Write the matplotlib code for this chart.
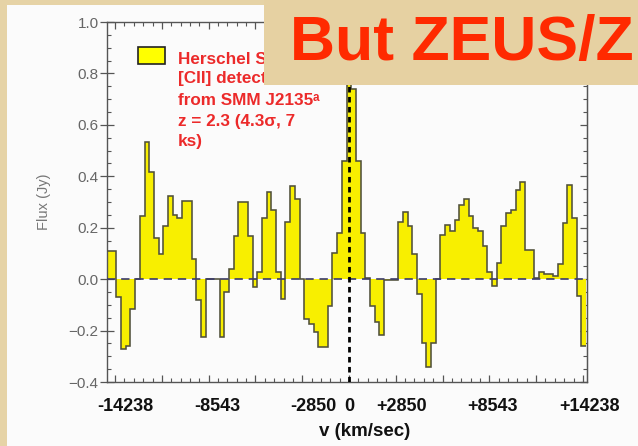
import numpy as np
import matplotlib
matplotlib.use("Agg")
import matplotlib.pyplot as plt
from matplotlib.patches import Rectangle
from matplotlib.ticker import MultipleLocator, FuncFormatter, NullFormatter

# ---------------- data ----------------
flux_jy = [
    0.11, 0.11, -0.07, -0.27, -0.26, -0.115, 0.0, 0.244, 0.532, 0.417,
    0.16, 0.096, 0.205, 0.323, 0.25, 0.237, 0.304, 0.304, 0.077, -0.083,
    -0.224, 0.0, 0.0, 0.0, -0.224, -0.051, 0.038, 0.167, 0.301, 0.301,
    0.167, -0.032, 0.026, 0.237, 0.34, 0.269, 0.026, -0.077, 0.224, 0.362,
    0.31, 0.0, -0.154, -0.173, -0.205, -0.263, -0.263, -0.103, 0.103, 0.18,
    0.46, 0.85, 0.74, 0.46, 0.18, 0.006, -0.103, -0.167, -0.218, -0.005,
    -0.005, -0.005, 0.224, 0.263, 0.205, 0.096, -0.058, -0.25, -0.34, -0.25,
    0.0, 0.173, 0.21, 0.186, 0.23, 0.29, 0.31, 0.244, 0.199, 0.186,
    0.128, 0.026, -0.026, 0.064, 0.205, 0.256, 0.269, 0.346, 0.378, 0.115,
    0.115, 0.006, 0.026, 0.02, 0.02, 0.013, 0.058, 0.218, 0.365, 0.237,
    -0.064, -0.26,
]
vel_start_kms = -14278
vel_end_kms = 13983
xlim_kms = (-14278, 14042)
ylim_jy = (-0.4, 1.0)
xtick_labels = ["-14238", "-8543", "-2850", "0", "+2850", "+8543", "+14238"]
xtick_label_pos_kms = [-13216, -7788, -2124, 0, 3127, 8496, 14219]
legend_lines = ["Herschel SPIRE FTS", "[CII] detection", "from SMM J2135\u1d43",
                "z = 2.3 (4.3\u03c3, 7", "ks)"]
title_text = "But ZEUS/Z"
xlabel_text = "v (km/sec)"
ylabel_text = "Flux (Jy)"

# ---------------- figure ----------------
W, H = 638, 446
fig = plt.figure(figsize=(W / 100, H / 100), dpi=100)
fig.patch.set_facecolor("#fbfbfb")


def fx(px):
    return px / W


def fy(py):
    return 1 - py / H


SANS = ["Liberation Sans", "DejaVu Sans"]

# slide border strips
fig.add_artist(Rectangle((0, 0), fx(7), 1, transform=fig.transFigure,
                         facecolor="#e6d3a6", edgecolor="none", zorder=0.5))
fig.add_artist(Rectangle((0, fy(5)), 1, 1 - fy(5), transform=fig.transFigure,
                         facecolor="#e6d3a6", edgecolor="none", zorder=0.5))

ax = fig.add_axes([fx(107), fy(382), fx(587) - fx(107), fy(22) - fy(382)])
ax.set_facecolor("#fbfbfb")

edges = np.linspace(vel_start_kms, vel_end_kms, len(flux_jy) + 1)
ax.stairs(flux_jy, edges, baseline=0, fill=True, color="#f8ef00", lw=0, zorder=2)
ax.stairs(flux_jy, edges, baseline=None, color="#50503a", lw=1.15, zorder=3)
ax.axhline(0, color="#3a3a6a", lw=1.2, ls=(0, (5, 3.5)), zorder=4)
ax.axvline(0, color="black", lw=2.0, ls=(0, (2, 1.6)), zorder=5)

ax.set_xlim(*xlim_kms)
ax.set_ylim(*ylim_jy)

for s in ax.spines.values():
    s.set_color("#555555")
    s.set_linewidth(1.0)

ax.xaxis.set_major_locator(MultipleLocator(2760))
ax.xaxis.set_minor_locator(MultipleLocator(552))
ax.yaxis.set_major_locator(MultipleLocator(0.2))
ax.yaxis.set_minor_locator(MultipleLocator(0.05))
ax.tick_params(axis="x", which="both", direction="in", top=True, bottom=True,
               labelbottom=False, color="#555555")
ax.tick_params(axis="x", which="major", length=5, width=0.9)
ax.tick_params(axis="x", which="minor", length=3, width=0.8)
ax.tick_params(axis="y", which="major", direction="inout", length=10, width=0.9,
               left=True, right=False, color="#555555", labelcolor="#666666",
               labelsize=11, pad=1)
ax.tick_params(axis="y", which="minor", direction="in", length=3, width=0.8,
               left=True, right=False, color="#555555")
ax.yaxis.set_major_formatter(FuncFormatter(
    lambda v, p: f"{v:.1f}".replace("-", "\u2212")))
for lab in ax.get_yticklabels():
    lab.set_family(SANS)

# right-hand ticks, pointing inward only
sec = ax.secondary_yaxis("right")
sec.yaxis.set_major_locator(MultipleLocator(0.2))
sec.yaxis.set_minor_locator(MultipleLocator(0.05))
sec.yaxis.set_major_formatter(NullFormatter())
sec.tick_params(which="major", direction="in", length=5, width=0.9, color="#555555")
sec.tick_params(which="minor", direction="in", length=3, width=0.8, color="#555555")
sec.spines["right"].set_color("#555555")

# x tick labels (placed where they appear on the slide)
for lab, pos in zip(xtick_labels, xtick_label_pos_kms):
    ax.text(pos, -0.045, lab, transform=ax.get_xaxis_transform(), ha="center",
            va="top", fontsize=13, fontweight="bold", family=SANS, color="#111111",
            clip_on=False)

fig.text(fx(365), fy(432), xlabel_text, ha="center", va="center", fontsize=13.5,
         fontweight="bold", family=SANS, color="#111111")
fig.text(fx(44), fy(202), ylabel_text, ha="center", va="center", rotation=90,
         fontsize=10.5, family=SANS, color="#777777")

# legend box and red text
fig.add_artist(Rectangle((fx(138), fy(64)), fx(165) - fx(138), fy(47) - fy(64),
                         transform=fig.transFigure, facecolor="#ffff00",
                         edgecolor="#222222", lw=1.2, zorder=6))
baselines = [64.5, 82.5, 104.5, 126, 146]
for line, b in zip(legend_lines, baselines):
    fig.text(fx(178), fy(b), line, ha="left", va="baseline", fontsize=12.3,
             fontweight="bold", family=SANS, color="#ec2a2a", zorder=6)

# slide title overlay
fig.add_artist(Rectangle((fx(264), fy(84.5)), 1 - fx(264), 1 - fy(84.5),
                         transform=fig.transFigure, facecolor="#e6d1a2",
                         edgecolor="none", zorder=10))
fig.text(fx(290), fy(60), title_text, ha="left", va="baseline", fontsize=45,
         fontweight="bold", family=SANS, color="#ff2a00", zorder=11)

fig.savefig("out.png", dpi=100, facecolor=fig.get_facecolor())
